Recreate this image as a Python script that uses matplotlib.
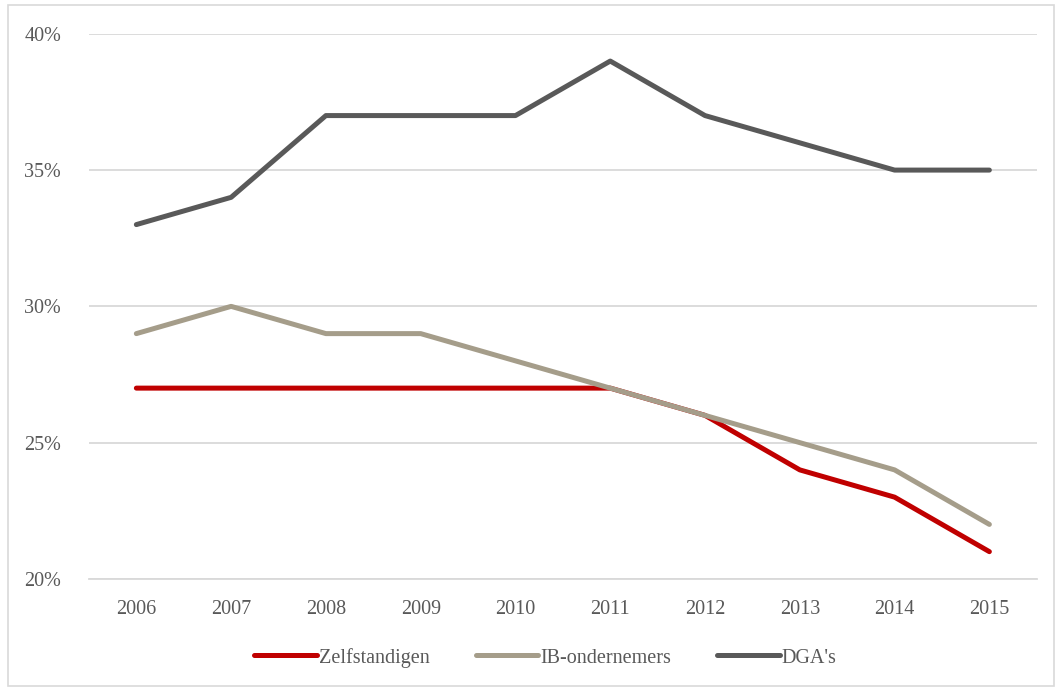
import matplotlib
matplotlib.use("Agg")
import matplotlib.pyplot as plt
from matplotlib.patches import Rectangle
from matplotlib.ticker import FuncFormatter

years = ["2006", "2007", "2008", "2009", "2010", "2011", "2012", "2013", "2014", "2015"]
zelfstandigen = [27, 27, 27, 27, 27, 27, 26, 24, 23, 21]
ib_ondernemers = [29, 30, 29, 29, 28, 27, 26, 25, 24, 22]
dgas = [33, 34, 37, 37, 37, 39, 37, 36, 35, 35]

series = [
    ("Zelfstandigen", zelfstandigen, "#c00000"),
    ("IB-ondernemers", ib_ondernemers, "#a59d8a"),
    ("DGA's", dgas, "#595959"),
]

plt.rcParams["font.family"] = ["Liberation Serif", "DejaVu Serif"]
text_color = "#595959"

fig = plt.figure(figsize=(10.59, 6.90), dpi=100)
ax = fig.add_axes([0.084, 0.161, 0.895, 0.790])

x = list(range(len(years)))
for name, vals, col in series:
    ax.plot(x, vals, color=col, lw=3.6, solid_capstyle="round",
            solid_joinstyle="round", label=name)

ax.set_xlim(-0.5, len(years) - 0.5)
ax.set_ylim(20, 40)
ax.set_yticks([20, 25, 30, 35, 40])
ax.yaxis.set_major_formatter(FuncFormatter(lambda v, p: f"{v:.0f}%"))
ax.set_xticks(x)
ax.set_xticklabels(years)
ax.grid(axis="y", color="#d9d9d9", lw=1.3)
ax.set_axisbelow(True)
for s in ["top", "right", "left"]:
    ax.spines[s].set_visible(False)
ax.spines["bottom"].set_color("#d9d9d9")
ax.spines["bottom"].set_linewidth(1.3)
ax.tick_params(axis="both", length=0, labelsize=14.5, colors=text_color)
ax.tick_params(axis="y", pad=20)
ax.tick_params(axis="x", pad=15)

leg = fig.legend(loc="center", bbox_to_anchor=(0.515, 0.047), ncol=3, frameon=False,
                 fontsize=14.5, handlelength=3.1, handletextpad=0.1, columnspacing=2.3)
for t in leg.get_texts():
    t.set_color(text_color)

fig.add_artist(Rectangle((8 / 1059, 1 - 686 / 690), 1046 / 1059, 681 / 690,
                         transform=fig.transFigure, fill=False,
                         edgecolor="#d9d9d9", lw=1.2))

fig.savefig("out.png", dpi=100)
